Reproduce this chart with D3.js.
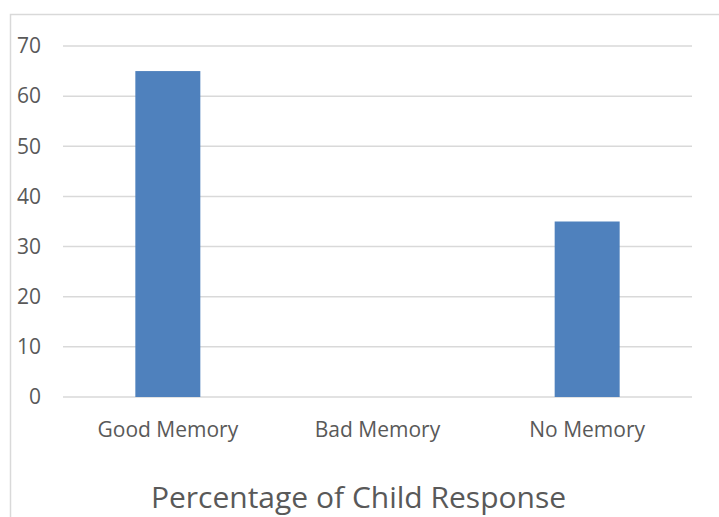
<!DOCTYPE html>
<html>
<head>
<meta charset="utf-8">
<script src="https://cdn.jsdelivr.net/npm/d3@7"></script>
<style>
  html, body { margin: 0; padding: 0; background: #fff; }
  svg { display: block; }
  text { font-family: "Open Sans", sans-serif; fill: #595959; }
</style>
</head>
<body>
<svg id="chart" width="719" height="517"></svg>
<script>
// Share of children by type of memory reported
const categories = ["Good Memory", "Bad Memory", "No Memory"];
const values = [65, 0, 35];
const yTicks = [0, 10, 20, 30, 40, 50, 60, 70];
const title = "Percentage of Child Response";

const svg = d3.select("#chart");

// chart frame (continues past the right and bottom edges)
svg.append("rect")
  .attr("x", 10.5).attr("y", 14.5)
  .attr("width", 740).attr("height", 560)
  .attr("fill", "none").attr("stroke", "#d9d9d9").attr("stroke-width", 1.5);

const plot = { left: 63, right: 692, top: 46, bottom: 397 };

const x = d3.scaleBand()
  .domain(categories)
  .range([plot.left, plot.right])
  .paddingInner(0.69).paddingOuter(0.345);

const y = d3.scaleLinear()
  .domain([0, 70])
  .range([plot.bottom, plot.top]);

// gridlines
svg.append("g")
  .selectAll("line")
  .data(yTicks)
  .join("line")
  .attr("x1", plot.left).attr("x2", plot.right)
  .attr("y1", d => y(d)).attr("y2", d => y(d))
  .attr("stroke", "#d9d9d9").attr("stroke-width", 1.5);

// y axis labels
const yAxis = d3.axisLeft(y).tickValues(yTicks).tickSize(0).tickPadding(0);
svg.append("g")
  .attr("transform", `translate(${plot.left - 22},0)`)
  .call(yAxis)
  .call(g => g.select(".domain").remove())
  .selectAll("text")
  .style("font-family", "'Open Sans', sans-serif")
  .style("font-size", "21px")
  .attr("fill", "#595959");

// bars
svg.append("g")
  .selectAll("rect")
  .data(categories.map((c, i) => ({ c, v: values[i] })))
  .join("rect")
  .attr("x", d => x(d.c))
  .attr("y", d => y(d.v))
  .attr("width", x.bandwidth())
  .attr("height", d => y(0) - y(d.v))
  .attr("fill", "#4f81bd");

// x axis labels
const xAxis = d3.axisBottom(x).tickSize(0).tickPadding(0);
svg.append("g")
  .attr("transform", `translate(0,${plot.bottom + 25})`)
  .call(xAxis)
  .call(g => g.select(".domain").remove())
  .selectAll("text")
  .style("font-family", "'Open Sans', sans-serif")
  .style("font-size", "21px")
  .attr("fill", "#595959");

// chart title below the plot
svg.append("text")
  .attr("x", (plot.left + plot.right) / 2 - 19)
  .attr("y", 508)
  .attr("text-anchor", "middle")
  .style("font-size", "30px")
  .text(title);
</script>
</body>
</html>
